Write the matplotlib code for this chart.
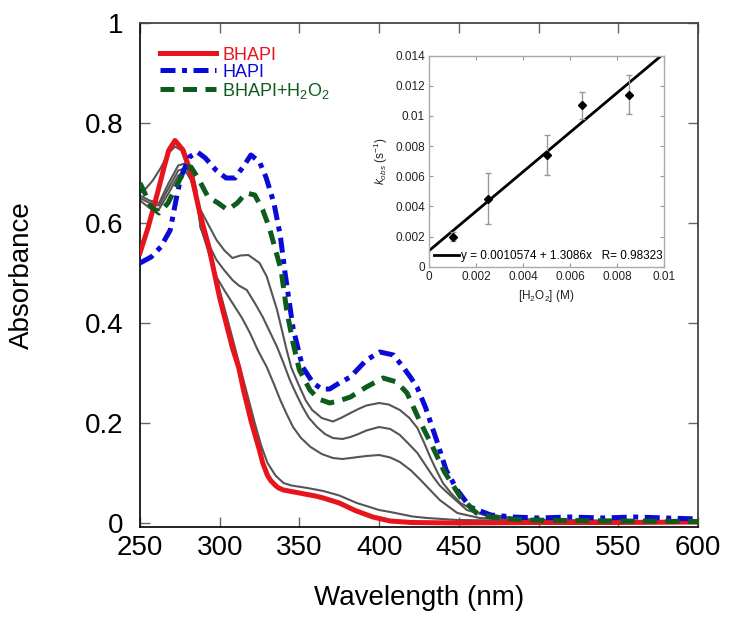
import matplotlib
matplotlib.use("Agg")
import matplotlib.pyplot as plt
import numpy as np

plt.rcParams['font.family'] = ['Liberation Sans', 'DejaVu Sans']
plt.rcParams['mathtext.fontset'] = 'custom'
plt.rcParams['mathtext.rm'] = 'Liberation Sans'
plt.rcParams['mathtext.it'] = 'Liberation Sans:italic'

# espectros (longitud de onda en nm, absorbancia)
wl_bhapi = [250, 255, 261, 265, 268, 272, 277, 282, 287.5, 290, 293, 300, 304, 308, 312, 315, 320,
            325, 327, 330, 332, 335, 337, 340, 345, 350, 360, 365, 375, 385, 396, 407, 420, 450,
            500, 550, 600]
abs_bhapi = [0.54, 0.59, 0.66, 0.71, 0.745, 0.765, 0.746, 0.70, 0.62, 0.59, 0.555, 0.45, 0.40, 0.35,
             0.31, 0.265, 0.20, 0.145, 0.12, 0.095, 0.085, 0.075, 0.07, 0.066, 0.063, 0.06, 0.054,
             0.05, 0.04, 0.025, 0.012, 0.004, 0.001, 0.0, 0.001, 0.001, 0.002]

wl_hapi = [250, 257, 263, 269, 272.6, 275.7, 281, 286, 291, 297.6, 304, 309.6, 314.6, 319.6, 325, 329,
           334, 338, 341, 346, 352, 358.6, 364, 369, 375, 382, 392, 400.5, 409, 415, 420, 424, 429,
           436, 442, 449, 457, 470, 484, 500, 520, 540, 560, 580, 600]
abs_hapi = [0.52, 0.532, 0.552, 0.586, 0.646, 0.692, 0.732, 0.742, 0.73, 0.706, 0.69, 0.69, 0.712,
            0.736, 0.722, 0.692, 0.64, 0.575, 0.50, 0.39, 0.312, 0.28, 0.268, 0.268, 0.28, 0.292,
            0.326, 0.342, 0.336, 0.312, 0.29, 0.27, 0.232, 0.166, 0.106, 0.066, 0.032, 0.016, 0.012,
            0.01, 0.012, 0.01, 0.012, 0.01, 0.008]

wl_h2o2 = [250, 253, 257, 262, 267.6, 272.6, 278, 282, 286.4, 292.7, 299, 305, 311, 316.6, 322, 327,
           331, 334.5, 338.5, 342, 346, 350, 356.6, 362, 369, 375.5, 382, 392, 402.5, 411, 417.5,
           425.6, 433, 441, 451, 461, 470, 490, 550, 600]
abs_h2o2 = [0.68, 0.66, 0.632, 0.62, 0.64, 0.672, 0.706, 0.712, 0.69, 0.652, 0.64, 0.626, 0.64, 0.66,
            0.656, 0.626, 0.592, 0.552, 0.506, 0.426, 0.36, 0.306, 0.266, 0.248, 0.24, 0.245, 0.252,
            0.272, 0.29, 0.282, 0.26, 0.203, 0.156, 0.102, 0.052, 0.02, 0.012, 0.006, 0.004, 0.003]

# espectros intermedios (gris)
wl_g1 = [250, 256, 262, 268, 274, 279, 283, 285, 288, 298, 303, 308, 313, 318, 325, 329.5, 336, 342,
         345, 350, 354, 358, 364, 371, 376, 382, 387, 392, 400, 406, 413, 419, 424, 428, 432, 436,
         440, 445, 451, 463, 484, 500, 550, 600]
abs_g1 = [0.645, 0.63, 0.628, 0.66, 0.695, 0.702, 0.68, 0.66, 0.626, 0.566, 0.545, 0.53, 0.535,
          0.536, 0.52, 0.493, 0.426, 0.346, 0.31, 0.273, 0.245, 0.226, 0.21, 0.203, 0.21, 0.22, 0.228,
          0.235, 0.24, 0.237, 0.226, 0.21, 0.19, 0.162, 0.132, 0.105, 0.08, 0.06, 0.04, 0.02, 0.01,
          0.006, 0.004, 0.003]

wl_g2 = [250, 256, 262, 268, 274, 279, 283, 285.5, 288, 298, 303, 308, 312, 317, 322, 327, 336, 340,
         344, 348, 352, 356, 361, 366, 371, 377, 382, 387, 392, 400, 407, 413, 418, 424, 429, 434,
         438, 443, 455, 470, 490, 550, 600]
abs_g2 = [0.65, 0.64, 0.635, 0.67, 0.705, 0.71, 0.69, 0.655, 0.59, 0.526, 0.505, 0.486, 0.475, 0.466,
          0.44, 0.412, 0.352, 0.32, 0.286, 0.258, 0.232, 0.21, 0.192, 0.178, 0.17, 0.168, 0.172,
          0.178, 0.185, 0.192, 0.188, 0.176, 0.16, 0.14, 0.116, 0.092, 0.075, 0.06, 0.026, 0.012,
          0.006, 0.004, 0.003]

wl_g3 = [250, 256, 262, 268, 274, 279, 283, 285.5, 288, 298, 303, 308, 314, 319, 324, 329.5, 334, 338,
         342, 346, 351, 357, 364, 371, 377, 382, 387, 392, 400, 407, 413, 420, 426, 432, 438, 449,
         463, 490, 600]
abs_g3 = [0.655, 0.645, 0.64, 0.68, 0.715, 0.72, 0.70, 0.665, 0.592, 0.492, 0.465, 0.44, 0.41, 0.38,
          0.345, 0.312, 0.278, 0.246, 0.218, 0.192, 0.17, 0.152, 0.138, 0.13, 0.128, 0.13, 0.132,
          0.134, 0.136, 0.131, 0.122, 0.105, 0.086, 0.066, 0.046, 0.02, 0.01, 0.005, 0.003]

wl_g4 = [250, 254, 258, 263, 268, 272, 276, 280, 285, 290, 300, 308, 315, 322, 326, 330, 335, 340,
         345, 355, 365, 375, 386, 400, 407, 421, 430, 449, 500, 600]
abs_g4 = [0.66, 0.67, 0.685, 0.71, 0.74, 0.753, 0.745, 0.71, 0.65, 0.59, 0.465, 0.37, 0.285, 0.20,
          0.155, 0.12, 0.095, 0.08, 0.075, 0.07, 0.064, 0.055, 0.04, 0.026, 0.022, 0.013, 0.01,
          0.006, 0.004, 0.003]

# inset: kobs vs [H2O2]
h2o2 = [0.001, 0.0025, 0.005, 0.0065, 0.0085]
kobs = [0.0020, 0.0045, 0.0074, 0.0107, 0.0114]
kobs_err = [0.0003, 0.0017, 0.0013, 0.0009, 0.0013]
ajuste_a = 0.0010574
ajuste_b = 1.3086

rojo = "#e8141b"
azul = "#0a0ad8"
verde = "#0d5c1e"
gris = "#555555"

fig = plt.figure(figsize=(7.29, 6.25), dpi=100)
ax = fig.add_axes([0.192, 0.1568, 0.7655, 0.8064])

for wl, a in [(wl_g1, abs_g1), (wl_g2, abs_g2), (wl_g3, abs_g3), (wl_g4, abs_g4)]:
    ax.plot(wl, a, color=gris, lw=1.5, zorder=2, solid_joinstyle="round")

ax.plot(wl_bhapi, abs_bhapi, color=rojo, lw=3.6, label="BHAPI", zorder=3, solid_joinstyle="round")
ax.plot(wl_hapi, abs_hapi, color=azul, lw=3.6, ls=(0, (3.0, 1.3, 1.0, 1.3)), label="HAPI", zorder=3)
ax.plot(wl_h2o2, abs_h2o2, color=verde, lw=3.6, ls=(0, (2.8, 1.7)),
        label="BHAPI+H$_2$O$_2$", zorder=3)

ax.set_xlim(250, 600)
ax.set_ylim(-0.008, 1.0)
ax.set_xticks([250, 300, 350, 400, 450, 500, 550, 600])
ax.set_yticks([0, 0.2, 0.4, 0.6, 0.8, 1.0])
ax.set_yticklabels(["0", "0.2", "0.4", "0.6", "0.8", "1"])
ax.tick_params(direction="in", top=True, right=True, length=7, width=1, color="#666666",
               labelsize=20)
ax.tick_params(axis="x", pad=6)
ax.tick_params(axis="y", pad=12)
for lado in ["left", "bottom"]:
    ax.spines[lado].set_color("#111111")
for lado in ["top", "right"]:
    ax.spines[lado].set_color("#444444")
for s in ax.spines.values():
    s.set_linewidth(1.3)

ax.set_xlabel("Wavelength (nm)", fontsize=20)
ax.set_ylabel("Absorbance", fontsize=20)
ax.xaxis.set_label_coords(0.5, -0.115)
ax.yaxis.set_label_coords(-0.188, 0.5)

ax.legend(loc="upper left", bbox_to_anchor=(0.036, 0.953), frameon=False, fontsize=13,
          handlelength=3.1, handletextpad=0.35, labelspacing=0.0, borderpad=0,
          borderaxespad=0, labelcolor="linecolor")

# inset
ins = fig.add_axes([0.5885, 0.5733, 0.3224, 0.3378])
xs = np.array([0.0, 0.01])
ins.plot(xs, ajuste_a + ajuste_b * xs, color="black", lw=2,
         label="y = 0.0010574 + 1.3086x   R= 0.98323")
ins.errorbar(h2o2, kobs, yerr=kobs_err, fmt="D", color="black", ms=4.5,
             ecolor="#999999", elinewidth=1, capsize=2.5, capthick=1)
ins.set_xlim(0, 0.01)
ins.set_ylim(0, 0.014)
ins.set_xticks([0, 0.002, 0.004, 0.006, 0.008, 0.01])
ins.set_xticklabels(["0", "0.002", "0.004", "0.006", "0.008", "0.01"])
ins.set_yticks([0, 0.002, 0.004, 0.006, 0.008, 0.01, 0.012, 0.014])
ins.set_yticklabels(["0", "0.002", "0.004", "0.006", "0.008", "0.01", "0.012", "0.014"])
ins.tick_params(direction="in", top=True, right=True, length=3, width=0.8, color="#999999",
                labelsize=8.5, labelcolor="#222222", pad=3)
for s in ins.spines.values():
    s.set_color("#aaaaaa")
    s.set_linewidth(1)
ins.set_xlabel("[H$_2$O$_2$] (M)", fontsize=8.5, color="#222222")
ins.set_ylabel("$k_{obs}$ (s$^{-1}$)", fontsize=8.5, color="#222222")
ins.legend(loc="lower left", bbox_to_anchor=(0, 0), frameon=False, fontsize=8.5,
           handlelength=2.1, handletextpad=0.25, borderpad=0.3, borderaxespad=0.1)

fig.savefig("out.png", dpi=100)
